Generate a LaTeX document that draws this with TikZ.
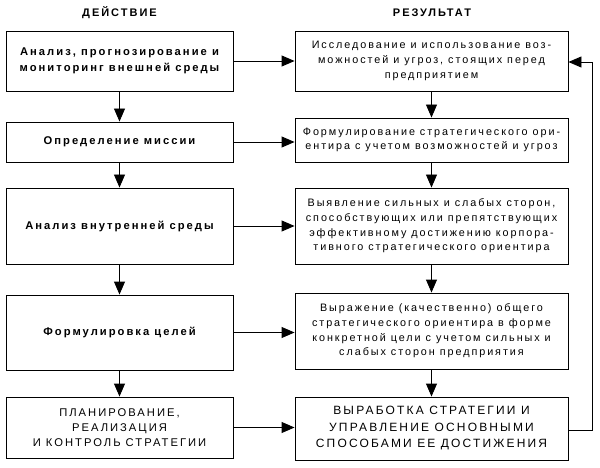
\documentclass[tikz,border=0pt]{standalone}
\usepackage{fontspec}
\setmainfont{Liberation Sans}
\newfontfamily\spfont[LetterSpace=18]{Liberation Sans}
\usetikzlibrary{arrows.meta}
\tikzset{
  box/.style={draw, line width=0.9pt, align=center, inner sep=2pt, anchor=center},
  lbox/.style={box, minimum width=227pt, font=\spfont\fontsize{11.2}{16.5}\selectfont\bfseries},
  lcap/.style={box, minimum width=227pt, font=\spfont\fontsize{11.2}{15}\selectfont},
  rbox/.style={box, minimum width=273pt, font=\spfont\fontsize{10.8}{14.7}\selectfont},
  rcap/.style={box, minimum width=273pt, font=\spfont\fontsize{12}{16.5}\selectfont},
  hdr/.style={font=\spfont\fontsize{11}{12}\selectfont\bfseries},
  arr/.style={line width=0.9pt, -{Triangle[length=13pt,width=11pt]}}
}
\begin{document}
\begin{tikzpicture}[x=1pt,y=-1pt]
\useasboundingbox (0,0) rectangle (600,468);
\node[hdr] (h1) at (119.5,13) {ДЕЙСТВИЕ};
\node[hdr] (h2) at (432,13) {РЕЗУЛЬТАТ};

\node[lbox, minimum height=60pt] (L1) at (119.5,61) {Анализ, прогнозирование и\\мониторинг внешней среды};
\node[lbox, minimum height=40pt] (L2) at (119.5,142) {Определение миссии};
\node[lbox, minimum height=76pt] (L3) at (119.5,226) {Анализ внутренней среды};
\node[lbox, minimum height=75pt] (L4) at (119.5,332.5) {Формулировка целей};
\node[lcap, minimum height=61pt] (L5) at (119.5,427.5) {ПЛАНИРОВАНИЕ,\\РЕАЛИЗАЦИЯ\\И КОНТРОЛЬ СТРАТЕГИИ};

\node[rbox, minimum height=60pt] (R1) at (431.5,61) {Исследование и использование воз-\\можностей и угроз, стоящих перед\\предприятием};
\node[rbox, minimum height=44pt] (R2) at (431.5,140) {Формулирование стратегического ори-\\ентира с учетом возможностей и угроз};
\node[rbox, minimum height=76pt] (R3) at (431.5,226) {Выявление сильных и слабых сторон,\\способствующих или препятствующих\\эффективному достижению корпора-\\тивного стратегического ориентира};
\node[rbox, minimum height=76pt] (R4) at (431.5,331) {Выражение (качественно) общего\\стратегического ориентира в форме\\конкретной цели с учетом сильных и\\слабых сторон предприятия};
\node[rcap, minimum height=63pt] (R5) at (431.5,428.5) {ВЫРАБОТКА СТРАТЕГИИ И\\УПРАВЛЕНИЕ ОСНОВНЫМИ\\СПОСОБАМИ ЕЕ ДОСТИЖЕНИЯ};

\foreach \a/\b in {L1/L2,L2/L3,L3/L4,L4/L5,R1/R2,R2/R3,R3/R4,R4/R5}
  \draw[arr] (\a.south) -- (\b.north);
\foreach \a/\b in {L1/R1,L2/R2,L3/R3,L4/R4,L5/R5}
  \draw[arr] (\a.east) -- (\a.east -| \b.west);

\coordinate (c1) at (592,430);
\coordinate (c2) at (592,62);
\draw[arr] (R5.east |- c1) -- (c1) -- (c2) -- (c2 -| R1.east);
\end{tikzpicture}
\end{document}
